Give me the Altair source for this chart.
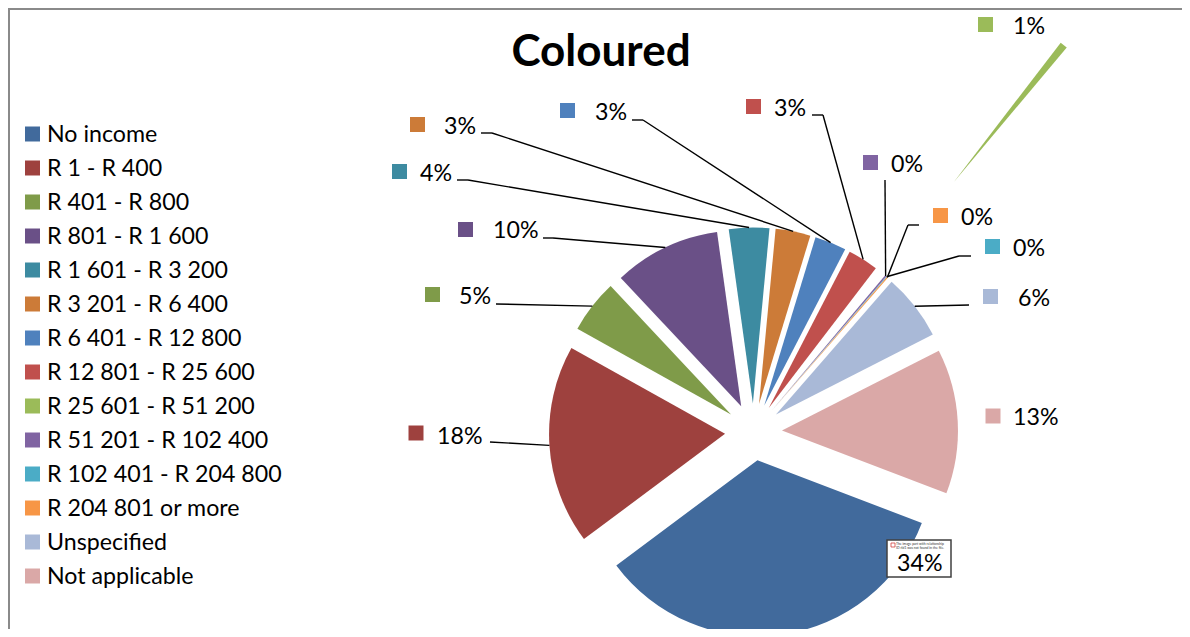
import altair as alt
import pandas as pd

# ---- data ----
categories = [
    "No income", "R 1 - R 400", "R 401 - R 800", "R 801 - R 1 600",
    "R 1 601 - R 3 200", "R 3 201 - R 6 400", "R 6 401 - R 12 800",
    "R 12 801 - R 25 600", "R 25 601 - R 51 200", "R 51 201 - R 102 400",
    "R 102 401 - R 204 800", "R 204 801 or more", "Unspecified", "Not applicable",
]
values = [34.0, 18.3, 4.9, 9.8, 3.7, 3.2, 2.9, 2.8, 0.7, 0.15, 0.05, 0.1, 6.1, 13.3]
pct_labels = ["34%", "18%", "5%", "10%", "4%", "3%", "3%", "3%", "1%", "0%", "0%", "0%", "6%", "13%"]
colors = [
    "#416A9C", "#9E413E", "#7F9B49", "#6A5087", "#3D8BA1", "#CC7B38", "#4F81BD",
    "#C0504D", "#9BBB59", "#8064A2", "#4BACC6", "#F79646", "#A9B9D7", "#DAA8A7",
]

# ---- layout (screen pixels) ----
W, H = 1174, 621
OFF = 8
CX, CY, R = 753.5, 432.0, 176.0
START = 110.9 * 3.141592653589793 / 180
EXPLODE = 28.5
EXPLODE_FAR = 320.0  # the detached 1% sliver

# label square centre, label text left x / centre y
sq_x = [None, 416, 432.5, 465.5, 399.5, 417.5, 567.5, 753.5, 985.5, 870.5, 992.5, 940.5, 990.5, 993]
sq_y = [None, 433, 294.5, 229.5, 171.5, 124.5, 110.5, 106.5, 24.5, 162.5, 246.5, 215.5, 296.5, 416]
tx = [897, 437, 459, 493, 420, 444, 595, 774, 1013, 891, 1013, 961, 1018, 1013]
ty = [562.5, 436, 296, 230, 172.5, 126, 111.5, 107.5, 26, 164, 248, 216.5, 297.5, 417]
# leader lines: end at label (lx, ly) with elbow at ex
lx = [None, 490, 496, 543, 457, 481, 632, 812, None, 885, 971, 919, 969, None]
ex = [None, 490, 496, 553, 468, 492, 643, 823, None, 885, 959, 908, 969, None]
ly = [None, 442, 304, 238, 180, 133, 120, 115, None, 180, 256, 225, 305, None]

df = pd.DataFrame({
    "order": list(range(len(categories))),
    "category": categories,
    "value": values,
    "pct": pct_labels,
    "sq_x": sq_x, "sq_y": sq_y, "tx": tx, "ty": ty,
    "lx": lx, "ex": ex, "ly": ly,
})

FONT = "Lato"
FS = 23.2
xs = alt.Scale(domain=[OFF, OFF + W], range=[0, W], nice=False, zero=False)
ys = alt.Scale(domain=[OFF, OFF + H], range=[0, H], nice=False, zero=False)
cscale = alt.Scale(domain=categories, range=colors)

far_cat = categories[8]
base = (
    alt.Chart(df)
    .transform_window(cum="sum(value)", sort=[alt.SortField("order")], frame=[None, 0])
    .transform_joinaggregate(total="sum(value)")
    .transform_calculate(
        t0=f"{START} + 2*PI*(datum.cum - datum.value)/datum.total",
        t1=f"{START} + 2*PI*datum.cum/datum.total",
    )
    .transform_calculate(mid="(datum.t0 + datum.t1)/2")
    .transform_calculate(e=f"datum.category == '{far_cat}' ? {EXPLODE_FAR} : {EXPLODE}")
    .transform_calculate(
        cx=f"{CX} + datum.e*sin(datum.mid)",
        cy=f"{CY} - datum.e*cos(datum.mid)",
    )
    .transform_calculate(
        ox=f"datum.cx + {R}*sin(datum.mid)",
        oy=f"datum.cy - {R}*cos(datum.mid)",
        legy=f"134 + datum.order*34",
        tyb="datum.ty + 8.3",
    )
)

arcs = base.mark_arc(radius=R).encode(
    theta=alt.Theta("t0:Q", scale=None, stack=None),
    theta2="t1:Q",
    x=alt.X("cx:Q", scale=xs, axis=None),
    y=alt.Y("cy:Q", scale=ys, axis=None),
    color=alt.Color("category:N", scale=cscale, legend=None),
)

lead1 = base.transform_filter("isValid(datum.lx)").mark_rule(color="black", strokeWidth=1.4).encode(
    x=alt.X("ox:Q", scale=xs, axis=None), y=alt.Y("oy:Q", scale=ys, axis=None),
    x2="ex:Q", y2="ly:Q",
)
lead2 = base.transform_filter("isValid(datum.lx)").mark_rule(color="black", strokeWidth=1.4).encode(
    x=alt.X("ex:Q", scale=xs, axis=None), y=alt.Y("ly:Q", scale=ys, axis=None),
    x2="lx:Q",
)

squares = base.transform_filter("isValid(datum.sq_x)").mark_square(size=225, opacity=1).encode(
    x=alt.X("sq_x:Q", scale=xs, axis=None), y=alt.Y("sq_y:Q", scale=ys, axis=None),
    color=alt.Color("category:N", scale=cscale, legend=None),
)

# boxed 34% label
box = base.transform_filter("datum.order == 0").mark_rect(
    fill="white", stroke="#404040", strokeWidth=1.5
).encode(
    x=alt.X("bx0:Q", scale=xs, axis=None), x2="bx1:Q",
    y=alt.Y("by0:Q", scale=ys, axis=None), y2="by1:Q",
).transform_calculate(bx0="datum.tx - 10", bx1="datum.tx + 54", by0="datum.ty - 22.5", by1="datum.ty + 14.5")

icon = base.transform_filter("datum.order == 0").mark_square(
    size=16, fill="white", stroke="#d04040", strokeWidth=0.8, opacity=1
).encode(
    x=alt.X("ix:Q", scale=xs, axis=None), y=alt.Y("iy:Q", scale=ys, axis=None),
).transform_calculate(ix="datum.tx - 4", iy="datum.ty - 17.5")

icon_txt = base.transform_filter("datum.order == 0").mark_text(
    text=["The image part with relationship", "ID rId1 was not found in the file."],
    font=FONT, fontSize=3.4, align="left", baseline="top", color="#333333", lineHeight=3.8,
).encode(
    x=alt.X("itx:Q", scale=xs, axis=None), y=alt.Y("ity:Q", scale=ys, axis=None),
).transform_calculate(itx="datum.tx - 1", ity="datum.ty - 20.5")

pct_text = base.mark_text(font=FONT, fontSize=FS, align="left", baseline="alphabetic", color="black").encode(
    x=alt.X("tx:Q", scale=xs, axis=None), y=alt.Y("tyb:Q", scale=ys, axis=None),
    text="pct:N",
)

leg_sq = base.mark_square(size=225, opacity=1).encode(
    x=alt.X("lsx:Q", scale=xs, axis=None), y=alt.Y("legy:Q", scale=ys, axis=None),
    color=alt.Color("category:N", scale=cscale, legend=None),
).transform_calculate(lsx="32.5")

leg_txt = base.mark_text(font=FONT, fontSize=FS, align="left", baseline="alphabetic", color="black").encode(
    x=alt.X("ltx:Q", scale=xs, axis=None), y=alt.Y("lty:Q", scale=ys, axis=None),
    text="category:N",
).transform_calculate(ltx="47", lty="datum.legy + 8.3")

title = alt.Chart(pd.DataFrame({"t": ["Coloured"]})).mark_text(
    font=FONT, fontSize=44, fontWeight="bold", align="center", baseline="alphabetic", color="black"
).encode(
    x=alt.X("x:Q", scale=xs, axis=None), y=alt.Y("y:Q", scale=ys, axis=None), text="t:N"
).transform_calculate(x="601", y="65.5")

one = pd.DataFrame({"a": [0]})
frame_top = alt.Chart(one).mark_rule(color="#8a8a8a", strokeWidth=2).encode(
    x=alt.value(0), x2=alt.value(W), y=alt.value(1)
)
frame_left = alt.Chart(one).mark_rule(color="#8a8a8a", strokeWidth=2).encode(
    x=alt.value(1), y=alt.value(0), y2=alt.value(H)
)

chart = alt.layer(
    frame_top, frame_left, arcs, lead1, lead2, squares, box, icon, icon_txt,
    pct_text, leg_sq, leg_txt, title,
).properties(
    width=W, height=H, padding=0, autosize=alt.AutoSizeParams(type="none")
).configure_view(stroke=None)

chart.save("out.html", embed_options={"renderer": "svg", "actions": False})
